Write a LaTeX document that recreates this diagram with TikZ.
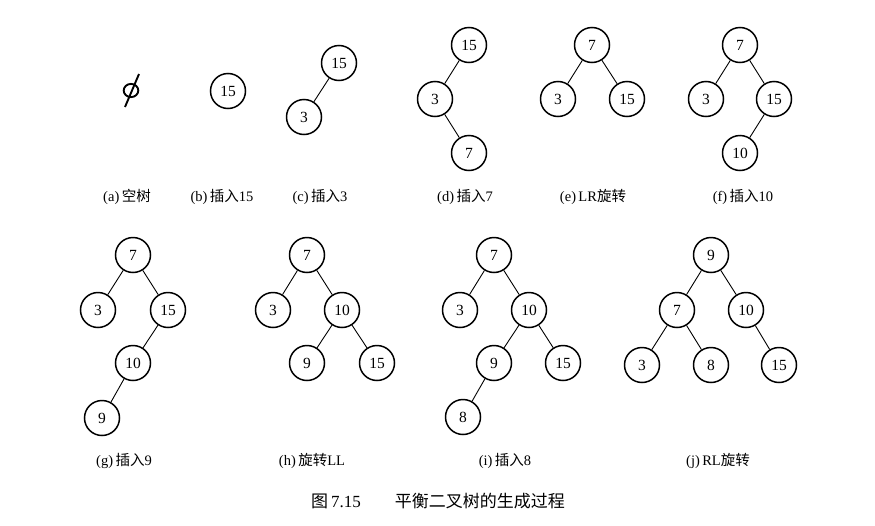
\documentclass[tikz,border=0pt]{standalone}
\usepackage{fontspec}
\setmainfont{Liberation Serif}
\newfontfamily\cjk{Noto Sans CJK SC}
\newcommand{\zh}[1]{{\cjk #1}}
\begin{document}
\begin{tikzpicture}[x=1pt,y=-1pt,
 nd/.style={circle,draw,line width=1.5pt,minimum size=35pt,inner sep=0pt,font=\fontsize{15.5}{15.5}\selectfont},
 ed/.style={line width=0.9pt},
 emptysym/.style={line width=1.9pt},
 lab/.style={font=\fontsize{14.5}{15}\selectfont,inner sep=0pt},
 captext/.style={font=\fontsize{17}{17}\selectfont,inner sep=0pt}]
\useasboundingbox (0,0) rectangle (875,525);
% (a) empty-set symbol
\coordinate (a0) at (131,90.5);
\draw[emptysym] (a0) ellipse (7.3 and 6.6);
\draw[emptysym] (139,74) -- (125,107);
% (b)
\node[nd] (b15) at (228,91) {15};
% (c)
\node[nd] (c15) at (339,63) {15};
\node[nd] (c3) at (304,117) {3};
\draw[ed] (c15) -- (c3);
% (d)
\node[nd] (d15) at (469,45) {15};
\node[nd] (d3) at (435,99) {3};
\node[nd] (d7) at (469,153) {7};
\draw[ed] (d15) -- (d3) (d3) -- (d7);
% (e)
\node[nd] (e7) at (592,45) {7};
\node[nd] (e3) at (558,99) {3};
\node[nd] (e15) at (627,99) {15};
\draw[ed] (e7) -- (e3) (e7) -- (e15);
% (f)
\node[nd] (f7) at (740,45) {7};
\node[nd] (f3) at (706,99) {3};
\node[nd] (f15) at (774,99) {15};
\node[nd] (f10) at (740,153) {10};
\draw[ed] (f7) -- (f3) (f7) -- (f15) (f15) -- (f10);
% labels row 1
\node[lab] (la) at (127,197) {(a)\,\zh{空树}};
\node[lab] (lb) at (222,197) {(b)\,\zh{插入}15};
\node[lab] (lc) at (320,197) {(c)\,\zh{插入}3};
\node[lab] (ld) at (465,197) {(d)\,\zh{插入}7};
\node[lab] (le) at (593,197) {(e)\,LR\zh{旋转}};
\node[lab] (lf) at (743,197) {(f)\,\zh{插入}10};
% (g)
\node[nd] (g7) at (133,255) {7};
\node[nd] (g3) at (98,310) {3};
\node[nd] (g15) at (168,310) {15};
\node[nd] (g10) at (133,363) {10};
\node[nd] (g9) at (102,418) {9};
\draw[ed] (g7) -- (g3) (g7) -- (g15) (g15) -- (g10) (g10) -- (g9);
% (h)
\node[nd] (h7) at (307,255) {7};
\node[nd] (h3) at (273,310) {3};
\node[nd] (h10) at (342,310) {10};
\node[nd] (h9) at (307,363) {9};
\node[nd] (h15) at (377,363) {15};
\draw[ed] (h7) -- (h3) (h7) -- (h10) (h10) -- (h9) (h10) -- (h15);
% (i)
\node[nd] (i7) at (494,255) {7};
\node[nd] (i3) at (460,310) {3};
\node[nd] (i10) at (529,310) {10};
\node[nd] (i9) at (494,363) {9};
\node[nd] (i15) at (563,363) {15};
\node[nd] (i8) at (463,417) {8};
\draw[ed] (i7) -- (i3) (i7) -- (i10) (i10) -- (i9) (i10) -- (i15) (i9) -- (i8);
% (j)
\node[nd] (j9) at (711,255) {9};
\node[nd] (j7) at (677,310) {7};
\node[nd] (j10) at (746,310) {10};
\node[nd] (j3) at (642,365) {3};
\node[nd] (j8) at (711,365) {8};
\node[nd] (j15) at (779,365) {15};
\draw[ed] (j9) -- (j7) (j9) -- (j10) (j7) -- (j3) (j7) -- (j8) (j10) -- (j15);
% labels row 2
\node[lab] (lg) at (124,461) {(g)\,\zh{插入}9};
\node[lab] (lh) at (312,461) {(h)\,\zh{旋转}LL};
\node[lab] (li) at (505,461) {(i)\,\zh{插入}8};
\node[lab] (lj) at (718,461) {(j)\,RL\zh{旋转}};
% caption
\node[captext] (cp) at (438,501) {\zh{图}\,7.15\hspace{2em}\zh{平衡二叉树的生成过程}};
\end{tikzpicture}
\end{document}
